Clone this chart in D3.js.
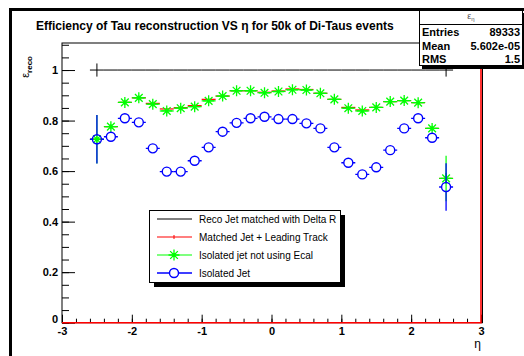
<!DOCTYPE html>
<html lang="en">
<head>
<meta charset="UTF-8">
<title>Efficiency of Tau reconstruction</title>
<style>
    body { margin: 0; background: #fff; }
    svg { display: block; font-family: "Liberation Sans", Arial, sans-serif; }
    .axis path, .axis line { stroke: #000; }
    .axis text { font-family: "Liberation Sans", Arial, sans-serif; font-weight: bold; font-size: 11px; fill: #000; }
</style>
</head>
<body>
<svg id="chart"></svg>
<script src="https://d3js.org/d3.v7.min.js"></script>
<script>
// bin centres in eta (bin width 0.2)
const etaCenters = [-2.5, -2.3, -2.1, -1.9, -1.7, -1.5, -1.3, -1.1, -0.9, -0.7, -0.5, -0.3, -0.1,
                     0.1, 0.3, 0.5, 0.7, 0.9, 1.1, 1.3, 1.5, 1.7, 1.9, 2.1, 2.3, 2.5];
const binHalf = 0.1;

// Reco Jet matched with Delta R
const recoDR = [1, 1, 1, 1, 1, 1, 1, 1, 1, 1, 1, 1, 1, 1, 1, 1, 1, 1, 1, 1, 1, 1, 1, 1, 1, 1];
const recoDRErr = [0.026, 0, 0, 0, 0, 0, 0, 0, 0, 0, 0, 0, 0, 0, 0, 0, 0, 0, 0, 0, 0, 0, 0, 0, 0, 0.026];

// Matched Jet + Leading Track
const matchedLT = [0.726, 0.776, 0.872, 0.890, 0.868, 0.846, 0.851, 0.859, 0.884, 0.897, 0.918, 0.918, 0.912,
                   0.917, 0.925, 0.923, 0.908, 0.884, 0.852, 0.842, 0.852, 0.875, 0.879, 0.871, 0.769, 0.571];

// Isolated jet not using Ecal
const isoNoEcal = [0.726, 0.776, 0.872, 0.890, 0.865, 0.838, 0.849, 0.855, 0.878, 0.897, 0.918, 0.918, 0.910,
                   0.915, 0.922, 0.921, 0.908, 0.884, 0.849, 0.838, 0.852, 0.875, 0.879, 0.871, 0.769, 0.571];
const isoNoEcalErr = [0.096, 0.01, 0.01, 0.01, 0.01, 0.01, 0.01, 0.01, 0.01, 0.01, 0.01, 0.01, 0.01,
                      0.01, 0.01, 0.01, 0.01, 0.01, 0.01, 0.01, 0.01, 0.01, 0.01, 0.01, 0.01, 0.09];

// Isolated Jet
const isoJet = [0.726, 0.736, 0.809, 0.793, 0.690, 0.598, 0.598, 0.641, 0.694, 0.756, 0.791, 0.809, 0.815,
                0.806, 0.806, 0.789, 0.769, 0.694, 0.633, 0.587, 0.615, 0.683, 0.769, 0.809, 0.732, 0.537];
const isoJetErr = [0.096, 0.01, 0.01, 0.01, 0.01, 0.01, 0.01, 0.01, 0.01, 0.01, 0.01, 0.01, 0.01,
                   0.01, 0.01, 0.01, 0.01, 0.01, 0.01, 0.01, 0.01, 0.01, 0.01, 0.01, 0.01, 0.094];

const xTicks = [-3, -2, -1, 0, 1, 2, 3];
const yTicks = [0, 0.2, 0.4, 0.6, 0.8, 1];

const statsLabels = ["Entries", "Mean", "RMS"];
const statsValues = ["89333", "5.602e-05", "1.5"];

const legendLabels = ["Reco Jet matched with Delta R", "Matched Jet + Leading Track",
                      "Isolated jet not using Ecal", "Isolated Jet"];

const W = 524, H = 356;
const svg = d3.select("#chart").attr("width", W).attr("height", H);

const x = d3.scaleLinear().domain([-3, 3]).range([62, 481]);
const y = d3.scaleLinear().domain([0, 1.107]).range([322.7, 43]);

// canvas border (left + top)
svg.append("line").attr("x1", 10.5).attr("x2", 10.5).attr("y1", 8).attr("y2", H)
    .attr("stroke", "#000").attr("stroke-width", 3);
svg.append("line").attr("x1", 9).attr("x2", W).attr("y1", 9.5).attr("y2", 9.5)
    .attr("stroke", "#000").attr("stroke-width", 3);

// frame
svg.append("rect").attr("x", x(-3)).attr("y", y(1.107))
    .attr("width", x(3) - x(-3) + 1.5).attr("height", y(0) - y(1.107))
    .attr("fill", "none").attr("stroke", "#000").attr("stroke-width", 1);

// axes: major + minor ticks drawn inward
svg.append("g").attr("class", "axis").attr("transform", `translate(0,${y(0)})`)
    .call(d3.axisBottom(x).tickValues(d3.range(-3, 3.001, 0.2)).tickSize(-4).tickFormat(""))
    .call(g => g.select(".domain").remove());
svg.append("g").attr("class", "axis").attr("transform", `translate(0,${y(0)})`)
    .call(d3.axisBottom(x).tickValues(xTicks).tickSize(-8).tickPadding(5).tickFormat(d => String(d)))
    .call(g => g.select(".domain").remove());

svg.append("g").attr("class", "axis").attr("transform", `translate(${x(-3)},0)`)
    .call(d3.axisLeft(y).tickValues(d3.range(0, 1.101, 0.05)).tickSize(-7).tickFormat(""))
    .call(g => g.select(".domain").remove());
svg.append("g").attr("class", "axis").attr("transform", `translate(${x(-3)},0)`)
    .call(d3.axisLeft(y).tickValues(yTicks).tickSize(-13).tickPadding(4).tickFormat(d => d === 0 || d === 1 ? d : d.toFixed(1)))
    .call(g => g.select(".domain").remove())
    .call(g => g.selectAll(".tick text").filter(d => d === 0).attr("dy", "-0.05em"));

// axis titles
svg.append("text").attr("x", x(3)).attr("y", 348).attr("text-anchor", "end")
    .attr("font-size", 12).text("η");
const yt = svg.append("text").attr("transform", "translate(29,56) rotate(-90)")
    .attr("text-anchor", "end").attr("font-size", 11);
yt.append("tspan").text("ε");
yt.append("tspan").attr("font-size", 8).attr("font-weight", "bold").attr("dy", 3).text("reco");

// title
svg.append("text").attr("x", 36).attr("y", 30).attr("font-weight", "bold").attr("font-size", 12)
    .text("Efficiency of Tau reconstruction VS η for 50k of Di-Taus events");

const idx = d3.range(etaCenters.length);
const plot = svg.append("g");

// red frame line drawn by the histogram (bottom + right edge)
plot.append("path")
    .attr("d", d3.line()([[x(-3), y(0)], [x(3), y(0)], [x(3), y(1.107)]]))
    .attr("fill", "none").attr("stroke", "#ff0000").attr("stroke-width", 1.6);

// Reco Jet matched with Delta R (black)
plot.selectAll(".hb").data(idx).enter().append("line")
    .attr("x1", i => x(etaCenters[i] - binHalf)).attr("x2", i => x(etaCenters[i] + binHalf))
    .attr("y1", i => y(recoDR[i])).attr("y2", i => y(recoDR[i]))
    .attr("stroke", "#000");
plot.selectAll(".vb").data(idx.filter(i => recoDRErr[i] > 0)).enter().append("line")
    .attr("x1", i => x(etaCenters[i])).attr("x2", i => x(etaCenters[i]))
    .attr("y1", i => y(recoDR[i] - recoDRErr[i])).attr("y2", i => y(recoDR[i] + recoDRErr[i]))
    .attr("stroke", "#000");

// Matched Jet + Leading Track (red)
plot.selectAll(".hr").data(idx).enter().append("line")
    .attr("x1", i => x(etaCenters[i] - binHalf)).attr("x2", i => x(etaCenters[i] + binHalf))
    .attr("y1", i => y(matchedLT[i])).attr("y2", i => y(matchedLT[i]))
    .attr("stroke", "#ff0000").attr("stroke-width", 1.2);

// Isolated jet not using Ecal (green stars)
const starPath = r => `M${-r},0H${r}M0,${-r}V${r}M${-r * 0.7},${-r * 0.7}L${r * 0.7},${r * 0.7}M${-r * 0.7},${r * 0.7}L${r * 0.7},${-r * 0.7}`;
plot.selectAll(".hg").data(idx).enter().append("line")
    .attr("x1", i => x(etaCenters[i] - binHalf)).attr("x2", i => x(etaCenters[i] + binHalf))
    .attr("y1", i => y(isoNoEcal[i])).attr("y2", i => y(isoNoEcal[i]))
    .attr("stroke", "#00ff00").attr("stroke-width", 1.2);
plot.selectAll(".vg").data(idx).enter().append("line")
    .attr("x1", i => x(etaCenters[i])).attr("x2", i => x(etaCenters[i]))
    .attr("y1", i => y(isoNoEcal[i] - isoNoEcalErr[i])).attr("y2", i => y(isoNoEcal[i] + isoNoEcalErr[i]))
    .attr("stroke", "#00ff00").attr("stroke-width", 1.2);
plot.selectAll(".sg").data(idx).enter().append("path")
    .attr("transform", i => `translate(${x(etaCenters[i])},${y(isoNoEcal[i])})`)
    .attr("d", starPath(5.5)).attr("stroke", "#00ff00").attr("stroke-width", 1.3).attr("fill", "none");

// Isolated Jet (blue open circles), bars stop at the marker
const rC = 4.5;
plot.selectAll(".hbl").data(idx).enter().append("path")
    .attr("d", i => {
        const cx = x(etaCenters[i]), cy = y(isoJet[i]);
        const x0 = x(etaCenters[i] - binHalf), x1 = x(etaCenters[i] + binHalf);
        let d = `M${x0},${cy}H${cx - rC}M${cx + rC},${cy}H${x1}`;
        const top = y(isoJet[i] + isoJetErr[i]), bot = y(isoJet[i] - isoJetErr[i]);
        if (cy - top > rC) d += `M${cx},${top}V${cy - rC}M${cx},${cy + rC}V${bot}`;
        return d;
    })
    .attr("stroke", "#0000ff").attr("stroke-width", 1.3).attr("fill", "none");
plot.selectAll(".cbl").data(idx).enter().append("circle")
    .attr("cx", i => x(etaCenters[i])).attr("cy", i => y(isoJet[i])).attr("r", rC)
    .attr("fill", "none").attr("stroke", "#0000ff").attr("stroke-width", 1.4);

// stats box
const sb = svg.append("g");
sb.append("rect").attr("x", 422).attr("y", 13).attr("width", 103).attr("height", 56).attr("fill", "#000");
sb.append("rect").attr("x", 419.5).attr("y", 10.5).attr("width", 103).attr("height", 55)
    .attr("fill", "#fff").attr("stroke", "#000");
sb.append("line").attr("x1", 419.5).attr("x2", 522.5).attr("y1", 24.5).attr("y2", 24.5).attr("stroke", "#000");
const sh = sb.append("text").attr("x", 471).attr("y", 19).attr("text-anchor", "middle")
    .attr("font-size", 9).attr("fill", "#555");
sh.append("tspan").text("ε");
sh.append("tspan").attr("font-size", 6).attr("dy", 2).text("η");
statsLabels.forEach((lab, i) => {
    const yy = 36 + i * 13.5;
    sb.append("text").attr("x", 422).attr("y", yy).attr("font-weight", "bold").attr("font-size", 11).text(lab);
    sb.append("text").attr("x", 520).attr("y", yy).attr("text-anchor", "end")
        .attr("font-weight", "bold").attr("font-size", 11).text(statsValues[i]);
});

// legend
const lg = svg.append("g");
lg.append("rect").attr("x", 154).attr("y", 215).attr("width", 191).attr("height", 72).attr("fill", "#000");
lg.append("rect").attr("x", 149.5).attr("y", 210.5).attr("width", 191).attr("height", 72)
    .attr("fill", "#fff").attr("stroke", "#000");
const lgColors = ["#000", "#ff0000", "#00ff00", "#0000ff"];
legendLabels.forEach((lab, i) => {
    const yy = 219 + i * 18;
    const c = lgColors[i];
    if (i === 3) {
        lg.append("path").attr("d", `M157,${yy}H${174 - rC}M${174 + rC},${yy}H192`).attr("stroke", c).attr("stroke-width", 1.3);
        lg.append("circle").attr("cx", 174).attr("cy", yy).attr("r", rC).attr("fill", "none").attr("stroke", c).attr("stroke-width", 1.4);
    } else {
        lg.append("line").attr("x1", 157).attr("x2", 192).attr("y1", yy).attr("y2", yy).attr("stroke", c).attr("stroke-width", 1.2);
    }
    if (i === 1) {
        lg.append("line").attr("x1", 174).attr("x2", 174).attr("y1", yy - 2).attr("y2", yy + 2).attr("stroke", c);
    }
    if (i === 2) {
        lg.append("path").attr("transform", `translate(174,${yy})`).attr("d", starPath(5.5))
            .attr("stroke", c).attr("stroke-width", 1.3).attr("fill", "none");
    }
    lg.append("text").attr("x", 199).attr("y", yy).attr("dy", "0.35em").attr("font-size", 10).text(lab);
});
</script>
</body>
</html>
